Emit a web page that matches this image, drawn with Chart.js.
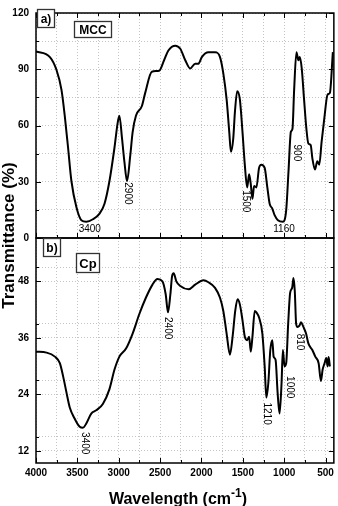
<!DOCTYPE html>
<html><head><meta charset="utf-8">
<script src="https://cdn.jsdelivr.net/npm/chart.js@4/dist/chart.umd.min.js"></script>
<style>html,body{margin:0;padding:0;background:#fff}#wrap{position:relative;width:338px;height:506px}canvas{display:block}</style>
</head><body><div id="wrap"><canvas id="c" width="338" height="506"></canvas></div>
<script>
// ---------- data ----------
const mccWavenumber = [4000,3832,3752,3692,3652,3612,3572,3512,3452,3392,3312,3232,3172,3112,3052,3012,2992,2960,2932,2900,2860,2832,2792,2720,2680,2600,2512,2452,2400,2316,2256,2196,2136,2076,2036,1996,1916,1836,1776,1736,1696,1664,1644,1616,1596,1568,1536,1504,1476,1448,1424,1404,1384,1364,1336,1304,1276,1236,1204,1176,1144,1116,1076,1016,976,948,920,900,880,852,828,812,788,760,732,708,680,660,628,600,576,548,516,476,448,412];
const mccTransmittance = [99.5,96.5,89.6,79,65,48,30.4,16.5,9.5,8.7,10,13,18.3,30.4,48,61.7,65.2,53,40.9,30.4,44.3,56.5,65.2,70.4,77.4,88.7,89.2,94.8,100,102.6,100.9,94.8,90.4,93,93,96.5,99.1,99.1,96.5,87.8,73.9,56.5,46,53,67,78.3,73.9,56.5,39,27,34,28.7,20.9,27.8,27,37.4,39.1,37.4,27,18.3,15.7,12.2,9.5,8.7,14.8,35.6,56.5,58.3,79,99.1,94.8,96.5,90.4,73.9,58.3,50.4,49.6,42.6,36.5,40.9,39.1,51.3,63.5,76.5,77.4,99.1];
const cpWavenumber = [4000,3872,3772,3712,3672,3632,3592,3532,3472,3432,3392,3332,3272,3192,3112,3052,2992,2912,2832,2752,2672,2592,2532,2472,2432,2405,2376,2356,2336,2304,2256,2156,2076,1976,1916,1836,1776,1736,1696,1656,1624,1592,1564,1536,1504,1476,1448,1424,1404,1384,1356,1336,1304,1264,1236,1216,1192,1168,1144,1128,1104,1080,1056,1032,1016,996,976,952,928,904,888,872,856,840,816,796,768,736,708,660,624,584,556,536,512,492,476,464,448];
const cpTransmittance = [33.05,32.85,32,30.6,27.8,24.4,21.2,18.8,17.1,16.9,17.8,19.9,20.6,21.95,25.1,29.2,32,33.7,36.9,41,44.5,47.3,48.5,48,45.2,41.4,45.2,49,49.7,48,47,46.3,47.3,48.2,47.8,46.6,44.5,41.7,36.9,32.4,36.2,41.7,44.2,43.1,39.7,36.2,35.5,36.2,33.05,36.2,41.7,41.4,40.3,36.9,29.9,23.3,26.4,33.4,35.5,32,31.3,24.4,19.9,26.4,33.4,29.9,30.6,39,45.6,46.6,48.7,45.9,39,38.3,38.6,39.3,38.3,36.9,34.8,33.4,32,30.6,26.8,29.2,30.6,31.7,29.9,31.9,29.9];

const xTickLabels = [4000,3500,3000,2500,2000,1500,1000,500];
const yTickLabelsA = [0,30,60,90,120];
const yTickLabelsB = [12,24,36,48];

// peak annotations: text, wavenumber, transmittance, rotated?
const mccPeaks = [["3400",3350,4.6,false],["2900",2896,23.8,true],["1500",1460,19.6,true],["1160",1002,4.6,false],["900",845,45.4,true]];
const cpPeaks = [["3400",3410,13.6,true],["2400",2405,38.05,true],["1210",1207,19.9,true],["1000",930,25.5,true],["810",813,35.1,true]];

// ---------- helpers ----------
function withMinor(majors){
  const s = new Set(); const st = majors[1]-majors[0];
  for (let i=0;i<majors.length;i++){ s.add(majors[i]); s.add(majors[i]+st/2); }
  return [...s];
}
const xGrid = withMinor(xTickLabels).filter(v=>v>=400 && v<=4000);
const yGridA = withMinor(yTickLabelsA).filter(v=>v<=120);
const yGridB = withMinor([6].concat(yTickLabelsB)).filter(v=>v>=9.4 && v<=57.2);

const FONT = "'Liberation Sans', Arial, sans-serif";
const gridCommon = {color:'#c4c4c4', lineWidth:1, drawTicks:false};

const framePlugin = {
  id:'frame',
  afterDraw(chart){
    const ctx = chart.ctx, x = chart.scales.x, ya = chart.scales.ya, yb = chart.scales.yb;
    const L = chart.chartArea.left, R = chart.chartArea.right;
    ctx.save();
    ctx.strokeStyle = '#000';
    ctx.lineWidth = 1;
    const panels = [[ya, yGridA, yTickLabelsA],[yb, yGridB, yTickLabelsB]];
    ctx.beginPath();
    panels.forEach(([s, grid, major])=>{
      grid.forEach(v=>{
        const p = Math.round(s.getPixelForValue(v))+0.5;
        const len = major.includes(v)?5:3;
        ctx.moveTo(L,p); ctx.lineTo(L+len,p);
        ctx.moveTo(R,p); ctx.lineTo(R-len,p);
      });
    });
    xGrid.forEach(v=>{
      const p = Math.round(x.getPixelForValue(v))+0.5;
      const len = xTickLabels.includes(v)?5:3;
      ctx.moveTo(p, ya.top); ctx.lineTo(p, ya.top+len);
      ctx.moveTo(p, ya.bottom); ctx.lineTo(p, ya.bottom-len);
      ctx.moveTo(p, yb.bottom); ctx.lineTo(p, yb.bottom-len);
    });
    ctx.stroke();
    ctx.lineWidth = 1.5;
    ctx.strokeRect(L, ya.top, R-L, ya.bottom-ya.top);
    ctx.strokeRect(L, yb.top, R-L, yb.bottom-yb.top);

    function boxed(t, cx, cy, w, h, size){
      ctx.fillStyle='#fff';
      ctx.fillRect(cx-w/2, cy-h/2, w, h);
      ctx.lineWidth=1.3; ctx.strokeStyle='#333';
      ctx.strokeRect(cx-w/2, cy-h/2, w, h);
      ctx.fillStyle='#000';
      ctx.font = 'bold '+size+'px '+FONT;
      ctx.textAlign='center'; ctx.textBaseline='middle';
      ctx.fillText(t, cx, cy+1);
    }
    boxed('a)', 46, 18.5, 17, 18, 12);
    boxed('MCC', 93, 29.5, 37, 16, 12);
    boxed('b)', 52, 247.5, 17, 18, 12);
    boxed('Cp', 88, 263, 23, 19, 13);

    ctx.fillStyle='#000';
    ctx.font = '10px '+FONT;
    ctx.textAlign='center'; ctx.textBaseline='middle';
    [[mccPeaks, ya],[cpPeaks, yb]].forEach(([arr, s])=>{
      arr.forEach(([t, w, v, rot])=>{
        const px = x.getPixelForValue(w), py = s.getPixelForValue(v);
        ctx.save(); ctx.translate(px, py);
        if (rot) ctx.rotate(Math.PI/2);
        ctx.fillText(t, 0, 0);
        ctx.restore();
      });
    });

    ctx.fillStyle='#000';
    ctx.save();
    ctx.translate(9, 235.5);
    ctx.rotate(-Math.PI/2);
    ctx.font = 'bold 17px '+FONT;
    ctx.textAlign='center'; ctx.textBaseline='middle';
    ctx.fillText('Transmittance (%)', 0, 0);
    ctx.restore();

    const main = 'Wavelength (cm', sup = '-1', close = ')';
    ctx.textAlign='left'; ctx.textBaseline='alphabetic';
    ctx.font = 'bold 16px '+FONT; const w1 = ctx.measureText(main).width, w3 = ctx.measureText(close).width;
    ctx.font = 'bold 12px '+FONT; const w2 = ctx.measureText(sup).width;
    let sx = 178 - (w1+w2+w3)/2, base = 504;
    ctx.font = 'bold 16px '+FONT; ctx.fillText(main, sx, base);
    ctx.font = 'bold 12px '+FONT; ctx.fillText(sup, sx+w1, base-7);
    ctx.font = 'bold 16px '+FONT; ctx.fillText(close, sx+w1+w2, base);
    ctx.restore();
  }
};

const tickFont = {family:FONT, size:10, weight:'bold'};

new Chart(document.getElementById('c'), {
  type:'line',
  data:{
    datasets:[
      {label:'MCC', yAxisID:'ya', data: mccWavenumber.map((w,i)=>({x:w, y:mccTransmittance[i]})),
       borderColor:'#000', borderWidth:2, pointRadius:0, cubicInterpolationMode:'monotone', fill:false},
      {label:'Cp', yAxisID:'yb', data: cpWavenumber.map((w,i)=>({x:w, y:cpTransmittance[i]})),
       borderColor:'#000', borderWidth:2, pointRadius:0, cubicInterpolationMode:'monotone', fill:false}
    ]
  },
  options:{
    responsive:false, animation:false, devicePixelRatio:1,
    layout:{padding:{top:6, right:3, left:0, bottom:0}},
    plugins:{legend:{display:false}, tooltip:{enabled:false}},
    scales:{
      x:{type:'linear', min:400, max:4000, reverse:true, position:'bottom',
         grid:gridCommon, border:{display:false, dash:[1,2]},
         afterBuildTicks:s=>{s.ticks = xGrid.map(v=>({value:v}));},
         afterFit:s=>{s.height = 43;},
         ticks:{autoSkip:false, maxRotation:0, color:'#000', font:tickFont, padding:4,
                callback:v=>xTickLabels.includes(v)?String(v):''}},
      yb:{type:'linear', min:9.4, max:57.2, position:'left', stack:'panels', stackWeight:1,
         grid:gridCommon, border:{display:false, dash:[1,2]},
         afterBuildTicks:s=>{s.ticks = yGridB.map(v=>({value:v}));},
         afterFit:s=>{s.width = 36;},
         ticks:{autoSkip:false, color:'#000', font:tickFont, padding:7,
                callback:v=>yTickLabelsB.includes(v)?String(v):''}},
      ya:{type:'linear', min:0, max:120, position:'left', stack:'panels', stackWeight:1,
         grid:gridCommon, border:{display:false, dash:[1,2]},
         afterBuildTicks:s=>{s.ticks = yGridA.map(v=>({value:v}));},
         afterFit:s=>{s.width = 36;},
         ticks:{autoSkip:false, color:'#000', font:tickFont, padding:7,
                callback:v=>yTickLabelsA.includes(v)?String(v):''}}
    }
  },
  plugins:[framePlugin]
});
</script></body></html>
